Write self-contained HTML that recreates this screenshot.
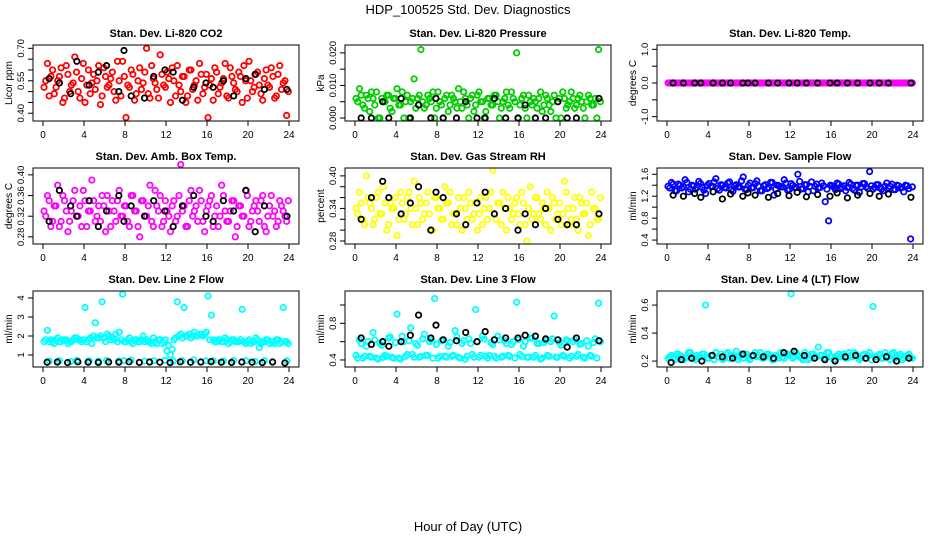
<!DOCTYPE html>
<html><head><meta charset="utf-8"><style>
body{margin:0;background:#fff;}
svg{display:block;font-family:"Liberation Sans",sans-serif;}
</style></head><body>
<svg id="chart" width="936" height="540" viewBox="0 0 936 540" xmlns="http://www.w3.org/2000/svg">
<text x="468" y="14" text-anchor="middle" font-size="13">HDP_100525  Std. Dev. Diagnostics</text>
<text x="468" y="531" text-anchor="middle" font-size="13">Hour of Day (UTC)</text>
</svg>
<script>
const blackHours=[0.6,1.6,2.7,3.3,4.5,5.4,6.2,7.4,7.9,8.6,9.9,10.8,11.9,12.7,13.6,14.7,15.9,16.6,17.6,18.6,19.8,20.7,21.6,23.8];
const blackLowHours=[0.4,1.4,2.4,3.4,4.4,5.4,6.4,7.4,8.4,9.4,10.4,11.4,12.4,13.4,14.4,15.4,16.4,17.4,18.4,19.4,20.4,21.4,22.4,23.6];
const xTicks=[0,4,8,12,16,20,24];
const co2Vals=[0.52,0.63,0.57,0.49,0.55,0.61,0.47,0.58,0.53,0.66,0.50,0.56,0.45,0.60,0.54,0.51,0.62,0.48,0.57,0.53,0.59,0.46,0.55,0.64,0.38,0.52,0.58,0.49,0.61,0.54,0.70,0.47,0.56,0.51,0.67,0.53,0.59,0.45,0.55,0.62,0.50,0.57,0.48,0.60,0.53,0.46,0.58,0.52,0.38,0.56,0.61,0.49,0.54,0.63,0.47,0.57,0.51,0.59,0.45,0.55,0.64,0.50,0.58,0.53,0.46,0.60,0.52,0.57,0.48,0.62,0.54,0.39];
const co2ValsB=[0.55,0.48,0.60,0.52,0.57,0.45,0.62,0.50,0.54,0.59,0.47,0.63,0.53,0.49,0.58,0.55,0.44,0.61,0.52,0.56,0.50,0.64,0.48,0.57,0.53,0.60,0.46,0.55,0.51,0.59,0.49,0.62,0.54,0.47,0.58,0.52,0.56,0.61,0.48,0.53,0.57,0.45,0.60,0.51,0.55,0.63,0.49,0.58,0.53,0.46,0.59,0.52,0.56,0.48,0.61,0.54,0.50,0.57,0.62,0.47,0.55,0.52,0.59,0.49,0.56,0.53,0.61,0.47,0.58,0.51,0.55,0.50];
const co2Black=[0.56,0.54,0.49,0.64,0.53,0.59,0.62,0.50,0.69,0.48,0.47,0.57,0.60,0.59,0.46,0.52,0.54,0.52,0.55,0.48,0.56,0.58,0.51,0.51];
const presVals=[0.006,0.009,0.004,0.007,0.002,0.006,0.008,0.000,0.005,0.007,0.003,0.006,0.009,0.004,0.000,0.007,0.005,0.012,0.006,0.021,0.003,0.007,0.005,0.000,0.008,0.004,0.006,0.002,0.007,0.005,0.009,0.003,0.006,0.000,0.007,0.004,0.008,0.005,0.002,0.006,0.004,0.007,0.000,0.005,0.008,0.003,0.006,0.020,0.004,0.007,0.000,0.005,0.006,0.003,0.008,0.004,0.006,0.002,0.007,0.005,0.000,0.006,0.004,0.008,0.003,0.006,0.005,0.000,0.007,0.004,0.006,0.021];
const presValsB=[0.005,0.007,0.003,0.006,0.008,0.004,0.000,0.006,0.005,0.007,0.002,0.006,0.004,0.008,0.005,0.000,0.006,0.003,0.007,0.005,0.004,0.006,0.008,0.003,0.005,0.000,0.007,0.004,0.006,0.003,0.005,0.008,0.004,0.006,0.002,0.007,0.005,0.000,0.006,0.004,0.007,0.005,0.003,0.006,0.004,0.008,0.005,0.000,0.006,0.003,0.007,0.004,0.005,0.006,0.002,0.007,0.004,0.005,0.000,0.006,0.008,0.003,0.005,0.006,0.004,0.007,0.003,0.005,0.006,0.004,0.000,0.005];
const presBlack=[0.000,0.000,0.005,0.000,0.006,0.000,0.004,0.000,0.006,0.000,0.000,0.005,0.000,0.000,0.006,0.000,0.000,0.004,0.000,0.000,0.005,0.000,0.000,0.006];
const tempVals=[0,0,0,0,0,0,0,0,0,0,0,0,0,0,0,0,0,0,0,0,0,0,0,0,0,0,0,0,0,0,0,0,0,0,0,0,0,0,0,0,0,0,0,0,0,0,0,0,0,0,0,0,0,0,0,0,0,0,0,0,0,0,0,0,0,0,0,0,0,0,0,0];
const tempValsB=[0,0,0,0,0,0,0,0,0,0,0,0,0,0,0,0,0,0,0,0,0,0,0,0,0,0,0,0,0,0,0,0,0,0,0,0,0,0,0,0,0,0,0,0,0,0,0,0,0,0,0,0,0,0,0,0,0,0,0,0,0,0,0,0,0,0,0,0,0,0,0,0];
const tempBlack=[0,0,0,0,0,0,0,0,0,0,0,0,0,0,0,0,0,0,0,0,0,0,0,0];
const boxVals=[0.33,0.36,0.30,0.34,0.38,0.31,0.35,0.29,0.33,0.37,0.32,0.30,0.35,0.33,0.39,0.31,0.34,0.36,0.29,0.33,0.35,0.31,0.37,0.32,0.34,0.30,0.36,0.33,0.28,0.35,0.32,0.38,0.30,0.34,0.36,0.31,0.33,0.29,0.35,0.32,0.42,0.34,0.30,0.37,0.33,0.31,0.35,0.29,0.34,0.36,0.32,0.30,0.38,0.33,0.31,0.35,0.28,0.34,0.32,0.37,0.30,0.33,0.35,0.31,0.36,0.29,0.34,0.32,0.30,0.35,0.33,0.31];
const boxValsB=[0.32,0.35,0.31,0.34,0.30,0.36,0.33,0.31,0.35,0.32,0.34,0.37,0.30,0.33,0.35,0.32,0.31,0.34,0.36,0.30,0.33,0.35,0.32,0.34,0.31,0.36,0.33,0.30,0.35,0.32,0.34,0.31,0.37,0.33,0.30,0.35,0.32,0.34,0.31,0.36,0.33,0.30,0.35,0.32,0.34,0.37,0.31,0.33,0.35,0.30,0.34,0.32,0.36,0.31,0.33,0.35,0.30,0.34,0.32,0.36,0.31,0.34,0.33,0.35,0.30,0.32,0.36,0.33,0.31,0.34,0.32,0.35];
const boxBlack=[0.31,0.37,0.34,0.32,0.35,0.30,0.33,0.36,0.31,0.34,0.32,0.35,0.33,0.30,0.34,0.36,0.32,0.31,0.35,0.33,0.37,0.29,0.34,0.32];
const rhVals=[0.34,0.37,0.32,0.40,0.35,0.31,0.36,0.33,0.38,0.30,0.35,0.34,0.29,0.37,0.32,0.36,0.34,0.39,0.31,0.35,0.33,0.37,0.30,0.36,0.34,0.32,0.38,0.35,0.31,0.33,0.36,0.30,0.34,0.37,0.32,0.35,0.33,0.31,0.36,0.34,0.41,0.32,0.35,0.37,0.30,0.34,0.33,0.36,0.31,0.35,0.28,0.38,0.33,0.36,0.32,0.34,0.37,0.30,0.35,0.33,0.31,0.39,0.34,0.32,0.36,0.30,0.35,0.33,0.29,0.37,0.34,0.32];
const rhValsB=[0.33,0.35,0.31,0.36,0.34,0.32,0.37,0.33,0.35,0.31,0.34,0.36,0.32,0.35,0.33,0.37,0.31,0.34,0.36,0.32,0.35,0.33,0.30,0.36,0.34,0.32,0.35,0.37,0.33,0.31,0.34,0.36,0.32,0.35,0.33,0.30,0.36,0.34,0.32,0.37,0.33,0.35,0.31,0.34,0.36,0.32,0.35,0.33,0.37,0.31,0.34,0.32,0.36,0.33,0.35,0.31,0.34,0.36,0.32,0.35,0.33,0.37,0.31,0.34,0.32,0.36,0.33,0.35,0.31,0.34,0.32,0.36];
const rhBlack=[0.32,0.36,0.39,0.36,0.33,0.35,0.38,0.30,0.37,0.36,0.33,0.31,0.35,0.37,0.33,0.34,0.30,0.33,0.31,0.34,0.32,0.31,0.31,0.33];
const flowVals=[1.38,1.45,1.30,1.42,1.35,1.50,1.28,1.40,1.33,1.47,1.36,1.25,1.43,1.38,1.52,1.31,1.40,1.35,1.46,1.29,1.41,1.37,1.55,1.32,1.44,1.36,1.48,1.30,1.39,1.34,1.45,1.22,1.40,1.37,1.50,1.31,1.43,1.36,1.60,1.33,1.41,1.28,1.46,1.38,1.35,1.44,1.10,0.75,1.39,1.32,1.42,1.36,1.30,1.45,1.34,1.40,1.27,1.43,1.37,1.65,1.33,1.41,1.35,1.30,1.44,1.38,1.32,1.40,1.35,1.28,1.39,0.42];
const flowValsB=[1.35,1.42,1.30,1.40,1.37,1.45,1.33,1.39,1.36,1.43,1.31,1.40,1.38,1.46,1.34,1.41,1.36,1.44,1.32,1.39,1.37,1.48,1.33,1.40,1.35,1.43,1.38,1.30,1.41,1.36,1.45,1.33,1.39,1.37,1.44,1.32,1.40,1.36,1.47,1.34,1.41,1.38,1.30,1.42,1.36,1.39,1.33,1.40,1.37,1.44,1.34,1.39,1.36,1.42,1.31,1.40,1.37,1.43,1.34,1.39,1.36,1.41,1.33,1.38,1.35,1.42,1.32,1.39,1.36,1.40,1.34,1.37];
const flowBlack=[1.22,1.20,1.25,1.18,1.28,1.15,1.24,1.20,1.26,1.22,1.18,1.25,1.21,1.27,1.19,1.23,1.20,1.26,1.17,1.22,1.25,1.20,1.24,1.18];
const line2Vals=[1.7,2.3,1.8,1.6,1.9,1.7,1.8,1.6,1.7,1.9,1.8,1.7,3.5,1.8,1.6,2.7,1.9,3.8,1.7,2.0,1.9,2.1,2.2,4.2,1.7,1.9,1.6,1.8,1.7,2.0,1.8,1.7,1.9,1.6,1.8,1.7,1.2,1.0,1.8,3.8,2.1,3.5,2.0,1.9,2.2,2.0,2.1,2.1,4.1,3.1,1.7,1.8,1.7,1.9,1.6,1.8,1.7,1.7,3.4,1.6,1.8,1.7,1.9,1.4,1.7,1.8,1.6,1.7,1.8,1.6,3.5,1.7];
const line2ValsB=[1.8,1.7,1.7,1.8,1.7,1.8,1.8,1.7,1.8,1.9,1.8,1.8,1.7,1.9,2.0,1.9,2.0,1.9,2.1,1.8,1.8,1.7,1.8,1.7,1.8,1.7,1.8,1.7,1.8,1.7,1.7,1.6,1.7,1.8,1.6,1.8,1.5,1.3,1.9,2.0,1.9,2.0,2.1,2.0,2.0,2.1,2.0,2.2,1.8,1.8,1.7,1.8,1.7,1.8,1.7,1.8,1.7,1.8,1.7,1.7,1.6,1.7,1.8,1.6,1.7,1.8,1.7,1.6,1.8,1.7,1.7,1.6];
const line2Low=[0.68,0.70,0.66,0.72,0.70,0.68,0.71,0.69,0.70,0.73,0.68,0.70,0.72,0.67,0.70,0.74,0.69,0.70,0.68,0.71,0.70,0.66,0.70,0.69];
const line2Black=[0.62,0.63,0.60,0.64,0.62,0.61,0.63,0.62,0.64,0.61,0.63,0.62,0.60,0.64,0.62,0.63,0.65,0.62,0.61,0.63,0.62,0.60,0.63,0.58];
const line3Vals=[0.45,0.62,0.42,0.55,0.44,0.70,0.42,0.58,0.43,0.44,0.65,0.42,0.90,0.41,0.60,0.46,0.75,0.43,0.56,0.44,0.68,0.45,0.62,1.07,0.42,0.61,0.44,0.55,0.44,0.72,0.43,0.58,0.41,0.63,0.46,0.95,0.43,0.66,0.44,0.45,0.57,0.42,0.62,0.44,0.58,0.44,0.60,1.03,0.46,0.55,0.43,0.64,0.43,0.58,0.41,0.59,0.45,0.60,0.88,0.43,0.56,0.44,0.61,0.44,0.62,0.46,0.58,0.42,0.55,0.44,0.63,1.02];
const line3ValsB=[0.42,0.58,0.44,0.60,0.43,0.62,0.41,0.56,0.45,0.64,0.43,0.59,0.42,0.66,0.44,0.61,0.46,0.58,0.43,0.63,0.45,0.60,0.42,0.57,0.44,0.62,0.43,0.59,0.45,0.65,0.42,0.61,0.44,0.58,0.43,0.60,0.45,0.63,0.42,0.59,0.44,0.66,0.43,0.61,0.45,0.57,0.42,0.62,0.44,0.60,0.43,0.64,0.45,0.58,0.42,0.61,0.44,0.63,0.43,0.59,0.45,0.62,0.42,0.60,0.44,0.57,0.43,0.61,0.45,0.59,0.42,0.60];
const line3Black=[0.64,0.57,0.60,0.55,0.60,0.67,0.89,0.64,0.78,0.62,0.61,0.70,0.60,0.71,0.62,0.64,0.64,0.67,0.66,0.63,0.62,0.54,0.64,0.61];
const line4Vals=[0.22,0.24,0.21,0.25,0.23,0.22,0.26,0.24,0.21,0.23,0.25,0.60,0.22,0.24,0.26,0.23,0.21,0.25,0.22,0.24,0.27,0.23,0.22,0.25,0.21,0.24,0.23,0.26,0.22,0.25,0.24,0.21,0.23,0.26,0.22,0.25,0.68,0.23,0.24,0.22,0.26,0.21,0.25,0.23,0.30,0.24,0.22,0.26,0.23,0.21,0.25,0.24,0.22,0.26,0.23,0.25,0.21,0.24,0.22,0.26,0.59,0.23,0.25,0.22,0.24,0.21,0.26,0.23,0.25,0.22,0.24,0.23];
const line4ValsB=[0.23,0.22,0.25,0.24,0.21,0.23,0.26,0.22,0.24,0.23,0.25,0.22,0.24,0.21,0.23,0.25,0.22,0.26,0.24,0.23,0.21,0.24,0.25,0.22,0.23,0.26,0.24,0.22,0.23,0.25,0.21,0.24,0.22,0.23,0.25,0.24,0.22,0.26,0.23,0.21,0.24,0.22,0.25,0.23,0.24,0.22,0.26,0.23,0.21,0.24,0.23,0.25,0.22,0.24,0.26,0.23,0.22,0.25,0.24,0.21,0.23,0.24,0.22,0.26,0.23,0.25,0.22,0.24,0.21,0.23,0.25,0.22];
const line4Black=[0.19,0.21,0.22,0.20,0.24,0.23,0.22,0.25,0.24,0.23,0.22,0.26,0.27,0.24,0.22,0.21,0.20,0.23,0.24,0.22,0.21,0.23,0.20,0.22];

const colorHours=[], colorHoursB=[];
for(let i=0;i<72;i++){colorHours.push(0.1+i/3);colorHoursB.push(0.27+i/3);}

const NS='http://www.w3.org/2000/svg';
const svg=document.getElementById('chart');
function mk(tag,attrs,parent){const e=document.createElementNS(NS,tag);for(const k in attrs)e.setAttribute(k,attrs[k]);(parent||svg).appendChild(e);return e;}

const panels=[
 {name:'co2',title:'Stan. Dev. Li-820 CO2',ylab:'Licor ppm',col:'#ff0000',vals:co2Vals,valsB:co2ValsB,blk:co2Black,lo:0.378,hi:0.7015,ticks:[0.40,0.45,0.50,0.55,0.60,0.65,0.70],labels:['0.40','','','0.55','','','0.70']},
 {name:'pressure',title:'Stan. Dev. Li-820 Pressure',ylab:'kPa',col:'#00cd00',vals:presVals,valsB:presValsB,blk:presBlack,lo:0,hi:0.0215,ticks:[0,0.005,0.010,0.015,0.020],labels:['0.000','','0.010','','0.020']},
 {name:'temp',title:'Stan. Dev. Li-820 Temp.',ylab:'degrees C',col:'#ff00ff',vals:tempVals,valsB:tempValsB,blk:tempBlack,lo:-1.04,hi:1.04,ticks:[-1,-0.5,0,0.5,1],labels:['-1.0','','0.0','','1.0']},
 {name:'box-temp',title:'Stan. Dev. Amb. Box Temp.',ylab:'degrees C',col:'#ff00ff',vals:boxVals,valsB:boxValsB,blk:boxBlack,lo:0.272,hi:0.4075,ticks:[0.28,0.32,0.36,0.40],labels:['0.28','0.32','0.36','0.40']},
 {name:'rh',title:'Stan. Dev. Gas Stream RH',ylab:'percent',col:'#ffff00',vals:rhVals,valsB:rhValsB,blk:rhBlack,lo:0.28,hi:0.409,ticks:[0.28,0.30,0.32,0.34,0.36,0.38,0.40],labels:['0.28','','','0.34','','','0.40']},
 {name:'sample-flow',title:'Stan. Dev. Sample Flow',ylab:'ml/min',col:'#0000ff',vals:flowVals,valsB:flowValsB,blk:flowBlack,lo:0.383,hi:1.66,ticks:[0.4,0.6,0.8,1.0,1.2,1.4,1.6],labels:['0.4','','0.8','','1.2','','1.6']},
 {name:'line2-flow',title:'Stan. Dev. Line 2 Flow',ylab:'ml/min',col:'#00ffff',vals:line2Vals,valsB:line2ValsB,extra:line2Low,blk:line2Black,blkLow:true,lo:0.526,hi:4.21,ticks:[1,2,3,4],labels:['1','2','3','4']},
 {name:'line3-flow',title:'Stan. Dev. Line 3 Flow',ylab:'ml/min',col:'#00ffff',vals:line3Vals,valsB:line3ValsB,blk:line3Black,lo:0.356,hi:1.12,ticks:[0.4,0.6,0.8,1.0],labels:['0.4','','0.8','']},
 {name:'line4-flow',title:'Stan. Dev. Line 4 (LT) Flow',ylab:'ml/min',col:'#00ffff',vals:line4Vals,valsB:line4ValsB,blk:line4Black,blkLow:true,lo:0.179,hi:0.679,ticks:[0.2,0.4,0.6],labels:['0.2','0.4','0.6']}
];
const lefts=[33,345,657], tops=[45,168,291], W=266, H=76;

panels.forEach((p,idx)=>{
 const L=lefts[idx%3], T=tops[Math.floor(idx/3)];
 const g=mk('g',{});
 
 
 const xs=h=>L+10+h*10.25;
 const ys=v=>T+73-(v-p.lo)/(p.hi-p.lo)*70;
 const t=mk('text',{x:L+W/2,y:T-8,'text-anchor':'middle','font-size':'11','font-weight':'bold'},g);
 t.textContent=p.title;
 
 
 const xa=mk('g',{},g);
 
 
 mk('line',{x1:xs(0),x2:xs(24),y1:T+H,y2:T+H,stroke:'#000'},xa);
 xTicks.forEach(v=>{
  mk('line',{x1:xs(v),x2:xs(v),y1:T+H,y2:T+H+5,stroke:'#000'},xa);
  const tx=mk('text',{x:xs(v),y:T+H+17,'text-anchor':'middle','font-size':'10'},xa);
  tx.textContent=v;
  
  
 });
 const ya=mk('g',{},g);
 
 
 mk('line',{x1:L,x2:L,y1:ys(p.ticks[0]),y2:ys(p.ticks[p.ticks.length-1]),stroke:'#000'},ya);
 p.ticks.forEach((v,i)=>{
  const y=ys(v);
  mk('line',{x1:L-5,x2:L,y1:y,y2:y,stroke:'#000'},ya);
  if(p.labels[i]){
   const tx=mk('text',{x:L-9,y:y,'text-anchor':'middle','font-size':'9.5',transform:'rotate(-90 '+(L-9)+' '+y+')'},ya);
   tx.textContent=p.labels[i];
   
   
  }
 });
 const yl=mk('text',{x:L-21,y:T+H/2,'text-anchor':'middle','font-size':'10',transform:'rotate(-90 '+(L-21)+' '+(T+H/2)+')'},g);
 yl.textContent=p.ylab;
 
 
 const pts=mk('g',{fill:'none','stroke-width':1.8},g);
 
 
 p.vals.forEach((v,i)=>{
  const c=mk('circle',{cx:xs(colorHours[i]),cy:ys(v),r:2.7,stroke:p.col},pts);
  
  
 });
 p.valsB.forEach((v,i)=>{
  const c=mk('circle',{cx:xs(colorHoursB[i]),cy:ys(v),r:2.7,stroke:p.col},pts);
  
  
 });
 if(p.extra){p.extra.forEach((v,i)=>{
  const c=mk('circle',{cx:xs(blackHours[i]),cy:ys(v),r:2.7,stroke:p.col},pts);
  
  
 });}
 const box=mk('rect',{x:L,y:T,width:W,height:H,fill:'none',stroke:'#000','stroke-width':1},g);
 
 
 const bh=p.blkLow?blackLowHours:blackHours;
 p.blk.forEach((v,i)=>{
  const c=mk('circle',{cx:xs(bh[i]),cy:ys(v),r:2.7,stroke:'#000'},pts);
  
  
 });
});
</script>
</body></html>
